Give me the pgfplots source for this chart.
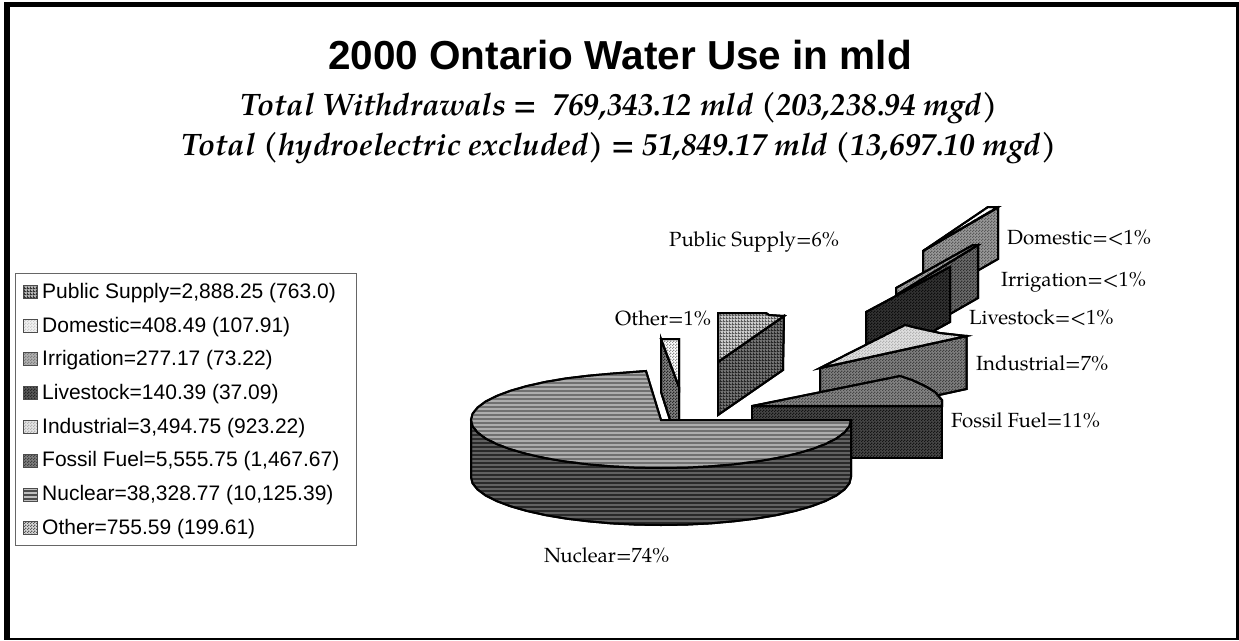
\documentclass[border=0pt]{standalone}
\usepackage{pgfplots}
\pgfplotsset{compat=1.18}
\usepackage{fontspec}
\usetikzlibrary{patterns}
\setmainfont{Liberation Sans}
\newfontfamily\pal{TeX Gyre Pagella}
% fine textures
\pgfdeclarepatternformonly{hst}{\pgfqpoint{-2pt}{0pt}}{\pgfqpoint{6pt}{4pt}}{\pgfqpoint{4pt}{4pt}}{%
  \pgfpathrectangle{\pgfqpoint{-2pt}{0pt}}{\pgfqpoint{8pt}{2pt}}\pgfusepath{fill}}
\pgfdeclarepatternformonly{dit}{\pgfpointorigin}{\pgfqpoint{3pt}{3pt}}{\pgfqpoint{3pt}{3pt}}{%
  \pgfpathrectangle{\pgfpointorigin}{\pgfqpoint{1.5pt}{1.5pt}}\pgfusepath{fill}%
  \pgfpathrectangle{\pgfqpoint{1.5pt}{1.5pt}}{\pgfqpoint{1.5pt}{1.5pt}}\pgfusepath{fill}}
\pgfdeclarepatternformonly{grd}{\pgfpointorigin}{\pgfqpoint{3pt}{3pt}}{\pgfqpoint{3pt}{3pt}}{%
  \pgfpathrectangle{\pgfpointorigin}{\pgfqpoint{3pt}{1pt}}\pgfusepath{fill}%
  \pgfpathrectangle{\pgfpointorigin}{\pgfqpoint{1pt}{3pt}}\pgfusepath{fill}}
\pgfplotsset{
  sl/.style n args={3}{draw=black,line width=2pt,line join=miter,fill=#1,mark=none,
     postaction={pattern=#2,pattern color=#3}},
  sw/.style n args={3}{draw=black!70,line width=0.9pt,fill=#1,mark=none,
     postaction={pattern=#2,pattern color=#3}},
  fr/.style={draw=none,fill=black,mark=none}
}
\begin{document}
\begin{tikzpicture}
\begin{axis}[
  scale only axis,width=1239pt,height=640pt,
  xmin=0,xmax=1239,ymin=0,ymax=640,y dir=reverse,
  axis lines=none,clip=false,
  every axis plot/.append style={forget plot}]
% page
\addplot[draw=none,fill=white,mark=none] coordinates {(0,0)(1239,0)(1239,640)(0,640)} --cycle;
% frame
\addplot[fr] coordinates {(4,2)(1239,2)(1239,7)(4,7)} --cycle;
\addplot[fr] coordinates {(4,2)(10,2)(10,640)(4,640)} --cycle;
\addplot[fr] coordinates {(1236,2)(1239,2)(1239,640)(1236,640)} --cycle;
\addplot[fr] coordinates {(4,638)(1239,638)(1239,640)(4,640)} --cycle;
% Domestic
\addplot[sl={black!40}{dit}{black!65}] coordinates {(923,251)(998,207.5)(998,259)(923,302)} --cycle;
\addplot[sl={white}{dit}{white}] coordinates {(923,251)(988,207)(998,207)} --cycle;
% Irrigation
\addplot[sl={black!58}{dit}{black!82}] coordinates {(896,295)(978,245)(978,298)(896,345)} --cycle;
\addplot[sl={black!35}{dit}{black!60}] coordinates {(896,288)(973,245)(978,245)(896,295)} --cycle;
% Livestock
\addplot[sl={black!80}{dit}{black!95}] coordinates {(866,312)(950,267)(950,322)(866,368)} --cycle;
% Industrial
\addplot[sl={black!50}{dit}{black!75}] coordinates {(820,368)(966.5,336)(966.5,389)(820,421)} --cycle;
\addplot[sl={black!12}{dit}{black!30}] coordinates {(820,368)(905,325)(917,328)(940,333)(966.5,336)} --cycle;
% Public Supply
\addplot[sl={black!55}{grd}{black!85}] coordinates {(718,362)(784,316)(783,370)(718,415)} --cycle;
\addplot[sl={black!20}{grd}{black!65}] coordinates {(718,313)(766,313)(769,315)(784,316)(718,362)} --cycle;
% Other
\addplot[sl={black!50}{dit}{black!85}] coordinates {(661,339)(679,387)(679,420)(670,420)(661,392)} --cycle;
\addplot[sl={white}{dit}{black!45}] coordinates {(661,339)(679,339)(679,387)} --cycle;
% Fossil Fuel
\addplot[sl={black!72}{dit}{black!92}] coordinates {(752,406)(942,406)(942,458)(752,458)} --cycle;
\addplot[sl={black!48}{dit}{black!72}] coordinates {(752,406)(900,376)(912,380)(925,386)(935,392)(942,400)(942,406)} --cycle;
% Nuclear side
\addplot[sl={black!62}{hst}{black!84}] coordinates {
 (851,420)(851,477)(849.4,483.3)(844.5,489.4)(836.5,495.4)(825.5,501)(811.7,506.2)(795.4,510.9)(776.7,515.1)(756,518.6)(733.7,521.3)(710.2,523.4)(685.8,524.6)(661,525)
 (636.2,524.6)(611.8,523.4)(588.3,521.3)(566,518.6)(545.3,515.1)(526.6,510.9)(510.3,506.2)(496.5,501)(485.5,495.4)(477.5,489.4)(472.6,483.3)(471,477)(471,420)} --cycle;
% Nuclear top
\addplot[sl={black!32}{hst}{black!56}] coordinates {
 (661,420)(851,420)(849.4,426.3)(844.5,432.4)(836.5,438.4)(825.5,444)(811.7,449.2)(795.4,453.9)(776.7,458.1)(756,461.6)(733.7,464.3)(710.2,466.4)(685.8,467.6)(661,468)
 (636.2,467.6)(611.8,466.4)(588.3,464.3)(566,461.6)(545.3,458.1)(526.6,453.9)(510.3,449.2)(496.5,444)(485.5,438.4)(477.5,432.4)(472.6,426.3)(471,420)
 (472.6,413.7)(477.5,407.6)(485.5,401.6)(496.5,396)(510.3,390.8)(526.6,386.1)(545.3,381.9)(566,378.4)(588.3,375.7)(611.8,373.6)(646,371)} --cycle;
% Legend box
\addplot[draw=black!60,line width=1pt,fill=white,mark=none] coordinates {(15,273)(356,273)(356,545)(15,545)} --cycle;
% Legend swatches
\addplot[sw={black!30}{grd}{black!80}] coordinates {(23,285)(37,285)(37,298)(23,298)} --cycle;
\addplot[sw={black!5}{dit}{black!20}] coordinates {(23,319)(37,319)(37,332)(23,332)} --cycle;
\addplot[sw={black!30}{dit}{black!50}] coordinates {(23,352)(37,352)(37,365)(23,365)} --cycle;
\addplot[sw={black!65}{dit}{black!85}] coordinates {(23,386)(37,386)(37,399)(23,399)} --cycle;
\addplot[sw={black!10}{dit}{black!30}] coordinates {(23,420)(37,420)(37,433)(23,433)} --cycle;
\addplot[sw={black!50}{dit}{black!75}] coordinates {(23,454)(37,454)(37,467)(23,467)} --cycle;
\addplot[sw={black!25}{hst}{black!70}] coordinates {(23,488)(37,488)(37,501)(23,501)} --cycle;
\addplot[sw={black!15}{dit}{black!65}] coordinates {(23,521)(37,521)(37,534)(23,534)} --cycle;
% Titles
\node[anchor=base,font=\bfseries\fontsize{40.5}{46}\selectfont] at (axis cs:620,69) {2000 Ontario Water Use in mld};
\node[anchor=base,font=\pal\bfseries\itshape\fontsize{31}{36}\selectfont] at (axis cs:619,115) {Total Withdrawals =\ \ 769,343.12 mld (203,238.94 mgd)};
\node[anchor=base,font=\pal\bfseries\itshape\fontsize{31}{36}\selectfont] at (axis cs:619,155) {Total (hydroelectric excluded) = 51,849.17 mld (13,697.10 mgd)};
% Legend text
\begin{scope}[every node/.style={anchor=base west,inner sep=0pt,font=\fontsize{21}{24}\selectfont}]
\node at (axis cs:42,298) {Public Supply=2,888.25 (763.0)};
\node at (axis cs:42,332) {Domestic=408.49 (107.91)};
\node at (axis cs:42,365) {Irrigation=277.17 (73.22)};
\node at (axis cs:42,399) {Livestock=140.39 (37.09)};
\node at (axis cs:42,433) {Industrial=3,494.75 (923.22)};
\node at (axis cs:42,466) {Fossil Fuel=5,555.75 (1,467.67)};
\node at (axis cs:42,500) {Nuclear=38,328.77 (10,125.39)};
\node at (axis cs:42,534) {Other=755.59 (199.61)};
\end{scope}
% Slice labels
\begin{scope}[every node/.style={anchor=base west,inner sep=0pt,font=\pal\fontsize{20.5}{24}\selectfont}]
\node at (axis cs:669,246) {Public Supply=6\%};
\node at (axis cs:615,325) {Other=1\%};
\node at (axis cs:1007,244) {Domestic=<1\%};
\node at (axis cs:1001,286) {Irrigation=<1\%};
\node at (axis cs:969,324) {Livestock=<1\%};
\node at (axis cs:976,370) {Industrial=7\%};
\node at (axis cs:951,427) {Fossil Fuel=11\%};
\node at (axis cs:544,562) {Nuclear=74\%};
\end{scope}
\end{axis}
\end{tikzpicture}
\end{document}
